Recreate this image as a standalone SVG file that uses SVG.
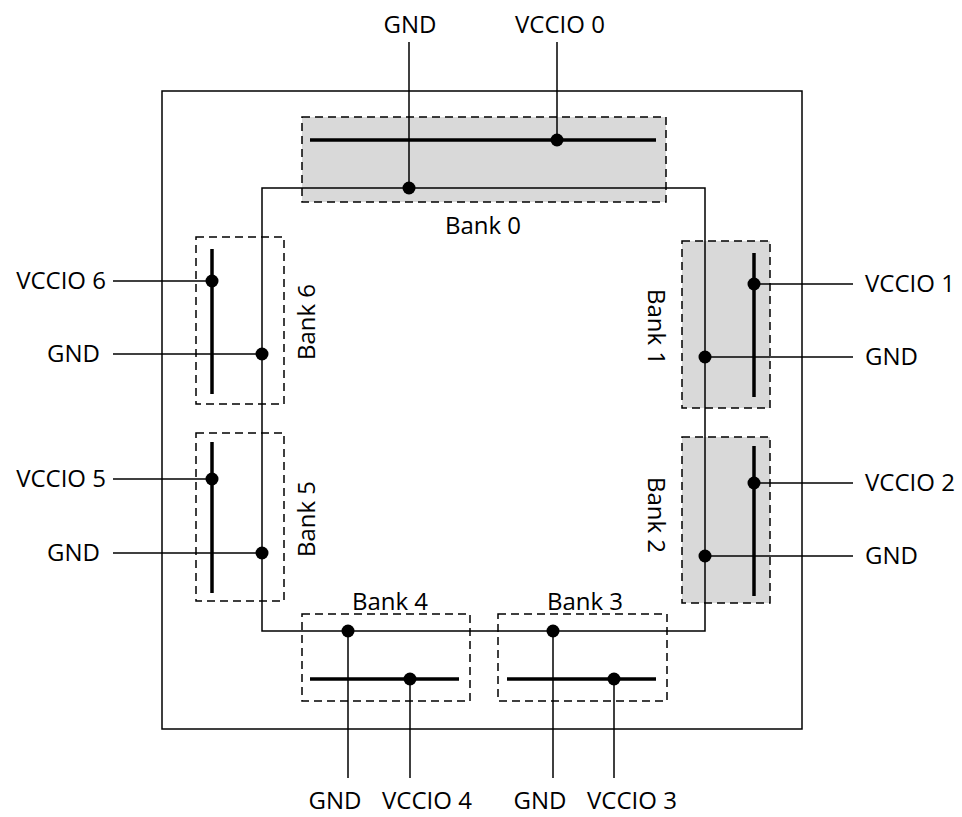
<svg xmlns="http://www.w3.org/2000/svg" width="962" height="817" viewBox="0 0 962 817">
<style>
.t{font-family:"Open Sans","Noto Sans",sans-serif;font-size:24px;fill:#000}
.thin{stroke:#000;stroke-width:1.5;fill:none}
.thick{stroke:#000;stroke-width:3.5;fill:none}
.bank{stroke:#000;stroke-width:1.5;stroke-dasharray:8,5}
.g{fill:#d9d9d9}
.w{fill:none}
.dot{fill:#000}
</style>
<rect width="962" height="817" fill="#fff"/>
<rect id="chip" x="162" y="91" width="640" height="638" class="thin"/>
<g id="bank0"><rect x="302" y="117" width="364" height="85" class="bank g"/><line x1="310" y1="140" x2="656" y2="140" class="thick"/><text class="t" x="483" y="234" text-anchor="middle">Bank 0</text></g>
<g id="bank1"><rect x="682" y="241" width="88" height="167" class="bank g"/><line x1="754" y1="253" x2="754" y2="397" class="thick"/><text class="t" transform="translate(648,327) rotate(90)" text-anchor="middle">Bank 1</text></g>
<g id="bank2"><rect x="682" y="437" width="88" height="166" class="bank g"/><line x1="754" y1="446" x2="754" y2="596" class="thick"/><text class="t" transform="translate(648,515) rotate(90)" text-anchor="middle">Bank 2</text></g>
<g id="bank3"><rect x="498" y="614" width="169" height="87" class="bank w"/><line x1="507" y1="679" x2="656" y2="679" class="thick"/><text class="t" x="585" y="610" text-anchor="middle">Bank 3</text></g>
<g id="bank4"><rect x="302" y="614" width="168" height="87" class="bank w"/><line x1="310" y1="679" x2="459" y2="679" class="thick"/><text class="t" x="390" y="610" text-anchor="middle">Bank 4</text></g>
<g id="bank5"><rect x="196" y="433" width="88" height="168" class="bank w"/><line x1="212" y1="442" x2="212" y2="593" class="thick"/><text class="t" transform="translate(315,519) rotate(-90)" text-anchor="middle">Bank 5</text></g>
<g id="bank6"><rect x="196" y="237" width="88" height="167" class="bank w"/><line x1="212" y1="249" x2="212" y2="394" class="thick"/><text class="t" transform="translate(315,322) rotate(-90)" text-anchor="middle">Bank 6</text></g>
<g id="connectors">
<path d="M262 188 H705 V631 H262 Z" class="thin"/>
<line x1="409" y1="42" x2="409" y2="188" class="thin"/>
<line x1="557" y1="42" x2="557" y2="140" class="thin"/>
<line x1="113" y1="281" x2="212" y2="281" class="thin"/>
<line x1="113" y1="354" x2="262" y2="354" class="thin"/>
<line x1="113" y1="479" x2="212" y2="479" class="thin"/>
<line x1="113" y1="553" x2="262" y2="553" class="thin"/>
<line x1="754" y1="284" x2="853" y2="284" class="thin"/>
<line x1="705" y1="357" x2="853" y2="357" class="thin"/>
<line x1="754" y1="483" x2="853" y2="483" class="thin"/>
<line x1="705" y1="556" x2="853" y2="556" class="thin"/>
<line x1="348" y1="631" x2="348" y2="778" class="thin"/>
<line x1="410" y1="679" x2="410" y2="778" class="thin"/>
<line x1="553" y1="631" x2="553" y2="778" class="thin"/>
<line x1="614" y1="679" x2="614" y2="778" class="thin"/>
<circle cx="409" cy="188" r="6.5" class="dot"/>
<circle cx="557" cy="140" r="6.5" class="dot"/>
<circle cx="212" cy="281" r="6.5" class="dot"/>
<circle cx="262" cy="354" r="6.5" class="dot"/>
<circle cx="212" cy="479" r="6.5" class="dot"/>
<circle cx="262" cy="553" r="6.5" class="dot"/>
<circle cx="754" cy="284" r="6.5" class="dot"/>
<circle cx="705" cy="357" r="6.5" class="dot"/>
<circle cx="754" cy="483" r="6.5" class="dot"/>
<circle cx="705" cy="556" r="6.5" class="dot"/>
<circle cx="348" cy="631" r="6.5" class="dot"/>
<circle cx="410" cy="679" r="6.5" class="dot"/>
<circle cx="553" cy="631" r="6.5" class="dot"/>
<circle cx="614" cy="679" r="6.5" class="dot"/>
</g>
<g id="labels">
<text class="t" x="410" y="33" text-anchor="middle">GND</text>
<text class="t" x="560" y="33" text-anchor="middle">VCCIO 0</text>
<text class="t" x="106" y="289" text-anchor="end">VCCIO 6</text>
<text class="t" x="100" y="362" text-anchor="end">GND</text>
<text class="t" x="106" y="487" text-anchor="end">VCCIO 5</text>
<text class="t" x="100" y="561" text-anchor="end">GND</text>
<text class="t" x="865" y="292" text-anchor="start">VCCIO 1</text>
<text class="t" x="865" y="365" text-anchor="start">GND</text>
<text class="t" x="865" y="491" text-anchor="start">VCCIO 2</text>
<text class="t" x="865" y="564" text-anchor="start">GND</text>
<text class="t" x="335" y="809" text-anchor="middle">GND</text>
<text class="t" x="427" y="809" text-anchor="middle">VCCIO 4</text>
<text class="t" x="540" y="809" text-anchor="middle">GND</text>
<text class="t" x="632" y="809" text-anchor="middle">VCCIO 3</text>
</g>
</svg>
